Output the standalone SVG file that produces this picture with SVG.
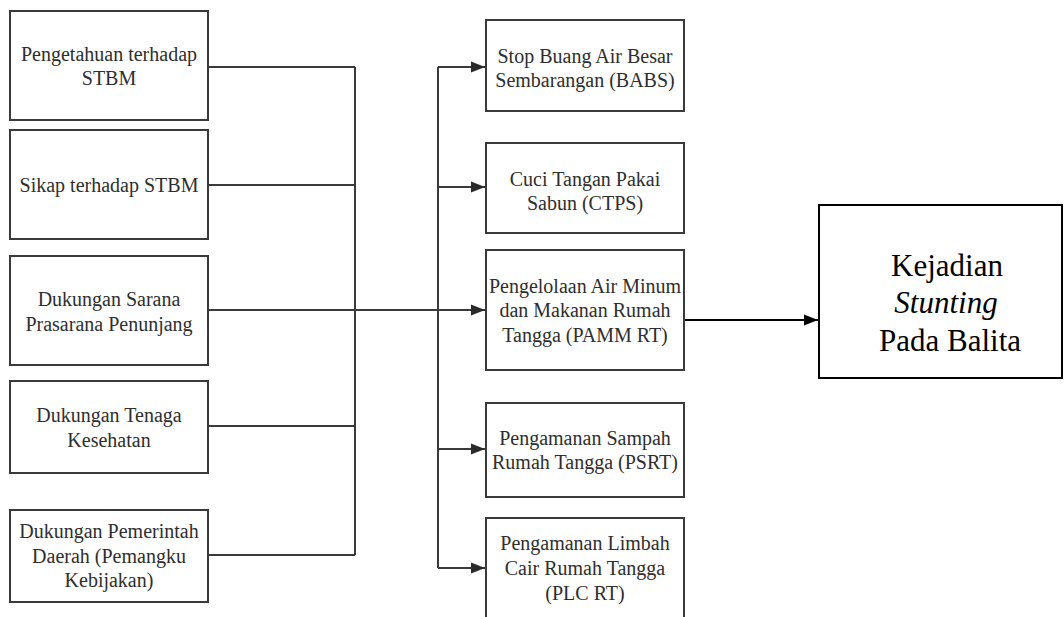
<svg xmlns="http://www.w3.org/2000/svg" width="1064" height="617" viewBox="0 0 1064 617">
<style>
.box{fill:#ffffff;stroke:#3a3a3a;stroke-width:2}
.bigbox{fill:#ffffff;stroke:#000000;stroke-width:2}
.t{font-family:'Liberation Serif','Times New Roman',serif;font-size:20px;fill:#2e2e2e;text-anchor:middle}
.tb{font-family:'Liberation Serif','Times New Roman',serif;font-size:31px;fill:#000000;text-anchor:middle}
.ln{fill:none;stroke:#3a3a3a;stroke-width:2}
.lnb{fill:none;stroke:#000000;stroke-width:2}
</style>
<defs>
<marker id="ah" markerUnits="userSpaceOnUse" markerWidth="14" markerHeight="12" viewBox="0 0 14 12" refX="14" refY="6" orient="auto">
<path d="M0,0.5 L14,6 L0,11.5 Z" fill="#2a2a2a"/>
</marker>
<marker id="ahb" markerUnits="userSpaceOnUse" markerWidth="14" markerHeight="12" viewBox="0 0 14 12" refX="14" refY="6" orient="auto">
<path d="M0,0.5 L14,6 L0,11.5 Z" fill="#000000"/>
</marker>
</defs>
<rect width="1064" height="617" fill="#ffffff"/>

<g id="connectors">
<path class="ln" d="M208,67 H355 M208,185 H355 M208,426 H355 M208,555 H355 M355,67 V555"/>
<path class="ln" d="M438,67 V568"/>
<path class="ln" d="M438,67 H485" marker-end="url(#ah)"/>
<path class="ln" d="M438,187 H485" marker-end="url(#ah)"/>
<path class="ln" d="M208,310 H485" marker-end="url(#ah)"/>
<path class="ln" d="M438,449 H485" marker-end="url(#ah)"/>
<path class="ln" d="M438,568 H485" marker-end="url(#ah)"/>
<path class="lnb" d="M684,320 H818" marker-end="url(#ahb)"/>
</g>

<g id="n-pengetahuan">
<rect class="box" x="10" y="11" width="198" height="109"/>
<text class="t" x="109" y="61">Pengetahuan terhadap</text>
<text class="t" x="109" y="85">STBM</text>
</g>
<g id="n-sikap">
<rect class="box" x="10" y="130" width="198" height="109"/>
<text class="t" x="109" y="192">Sikap terhadap STBM</text>
</g>
<g id="n-sarana">
<rect class="box" x="10" y="256" width="198" height="109"/>
<text class="t" x="109" y="306">Dukungan Sarana</text>
<text class="t" x="109" y="331">Prasarana Penunjang</text>
</g>
<g id="n-tenaga">
<rect class="box" x="10" y="381" width="198" height="92"/>
<text class="t" x="109" y="422">Dukungan Tenaga</text>
<text class="t" x="109" y="447">Kesehatan</text>
</g>
<g id="n-pemda">
<rect class="box" x="10" y="510" width="198" height="92"/>
<text class="t" x="109" y="538">Dukungan Pemerintah</text>
<text class="t" x="109" y="563">Daerah (Pemangku</text>
<text class="t" x="109" y="587">Kebijakan)</text>
</g>

<g id="n-babs">
<rect class="box" x="486" y="20" width="198" height="91"/>
<text class="t" x="585" y="63">Stop Buang Air Besar</text>
<text class="t" x="585" y="87">Sembarangan (BABS)</text>
</g>
<g id="n-ctps">
<rect class="box" x="486" y="143" width="198" height="90"/>
<text class="t" x="585" y="186">Cuci Tangan Pakai</text>
<text class="t" x="585" y="210">Sabun (CTPS)</text>
</g>
<g id="n-pamm">
<rect class="box" x="486" y="250" width="198" height="120"/>
<text class="t" x="585" y="293">Pengelolaan Air Minum</text>
<text class="t" x="585" y="317">dan Makanan Rumah</text>
<text class="t" x="585" y="342">Tangga (PAMM RT)</text>
</g>
<g id="n-psrt">
<rect class="box" x="486" y="403" width="198" height="94"/>
<text class="t" x="585" y="445">Pengamanan Sampah</text>
<text class="t" x="585" y="469">Rumah Tangga (PSRT)</text>
</g>
<g id="n-plcrt">
<rect class="box" x="486" y="518" width="198" height="110"/>
<text class="t" x="585" y="550">Pengamanan Limbah</text>
<text class="t" x="585" y="575">Cair Rumah Tangga</text>
<text class="t" x="585" y="600">(PLC RT)</text>
</g>

<g id="n-stunting">
<rect class="bigbox" x="819" y="205" width="243" height="173"/>
<text class="tb" x="947" y="276">Kejadian</text>
<text class="tb" x="946" y="313" font-style="italic">Stunting</text>
<text class="tb" x="950" y="351">Pada Balita</text>
</g>
</svg>
